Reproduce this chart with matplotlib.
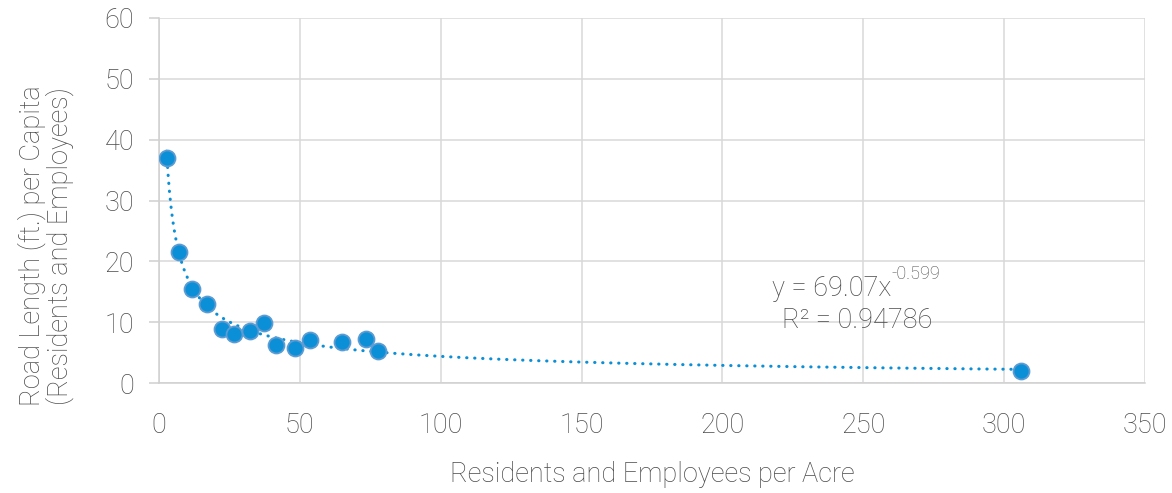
import matplotlib
matplotlib.use("Agg")
import matplotlib.pyplot as plt
import numpy as np

# Density vs. road length per capita
density = [2.7, 7.2, 11.8, 16.9, 22.3, 26.7, 32.4, 37.4, 41.5, 48.3, 53.7, 65.0, 73.4, 77.6, 306.0]
road_per_capita = [37.0, 21.5, 15.5, 13.0, 8.8, 8.0, 8.5, 9.9, 6.3, 5.8, 7.0, 6.7, 7.2, 5.2, 1.9]

# Power trendline y = a * x^b
trend_a = 69.07
trend_b = -0.599
trend_r2 = 0.94786

x_ticks = [0, 50, 100, 150, 200, 250, 300, 350]
y_ticks = [0, 10, 20, 30, 40, 50, 60]

plt.rcParams['font.family'] = ['Roboto', 'DejaVu Sans']
text_color = '#4a4a4a'
grid_color = '#d9d9d9'
point_color = '#0b8fd6'
fw = 'light'
fs = 19.5

fig = plt.figure(figsize=(11.72, 4.93), dpi=100)
ax = fig.add_axes([159 / 1172, 110 / 493, (1145 - 159) / 1172, (383 - 18) / 493])

ax.set_xlim(0, 350)
ax.set_ylim(0, 60)
ax.set_xticks(x_ticks)
ax.set_yticks(y_ticks)
ax.grid(True, color=grid_color, linewidth=1.1, zorder=0)
ax.set_axisbelow(True)

for side in ['top', 'right']:
    ax.spines[side].set_visible(False)
for side in ['left', 'bottom']:
    ax.spines[side].set_color('#d0d0d0')
    ax.spines[side].set_linewidth(1.1)

ax.tick_params(axis='y', length=7, width=1.1, color='#d0d0d0', pad=11,
               labelsize=fs, labelcolor=text_color)
ax.tick_params(axis='x', length=0, pad=21, labelsize=fs, labelcolor=text_color)
for lbl in ax.get_xticklabels() + ax.get_yticklabels():
    lbl.set_fontweight(fw)

# trendline
xs = np.linspace(min(density), max(density), 600)
ax.plot(xs, trend_a * xs ** trend_b, color=point_color, linewidth=2.2,
        linestyle=(0, (0.1, 2.52)), dash_capstyle='round', zorder=2)

ax.plot(density, road_per_capita, linestyle='none', marker='o', markersize=11.5,
        markerfacecolor=point_color, markeredgecolor='#5d9bd3', markeredgewidth=1.3,
        zorder=3)

eq = ax.text(217.5, 15.5, f"y = {trend_a:.2f}x", fontsize=fs,
             color=text_color, fontweight=fw, ha='left', va='center')
ax.annotate(f"{trend_b:.3f}", xy=(1.0, 0.72), xycoords=eq, fontsize=13,
            color=text_color, fontweight=fw, ha='left', va='bottom')
ax.text(221, 10.3, f"R² = {trend_r2:.5f}", fontsize=fs, color=text_color,
        fontweight=fw, ha='left', va='center')

fig.text(652 / 1172, 1 - 474 / 493, "Residents and Employees per Acre", fontsize=fs,
         color=text_color, fontweight=fw, ha='center', va='center')
fig.text(46 / 1172, 1 - 246 / 493, "Road Length (ft.) per Capita\n(Residents and Employees)",
         fontsize=fs, color=text_color, fontweight=fw, ha='center', va='center',
         rotation=90, linespacing=1.0)

fig.savefig("out.png", dpi=100)
